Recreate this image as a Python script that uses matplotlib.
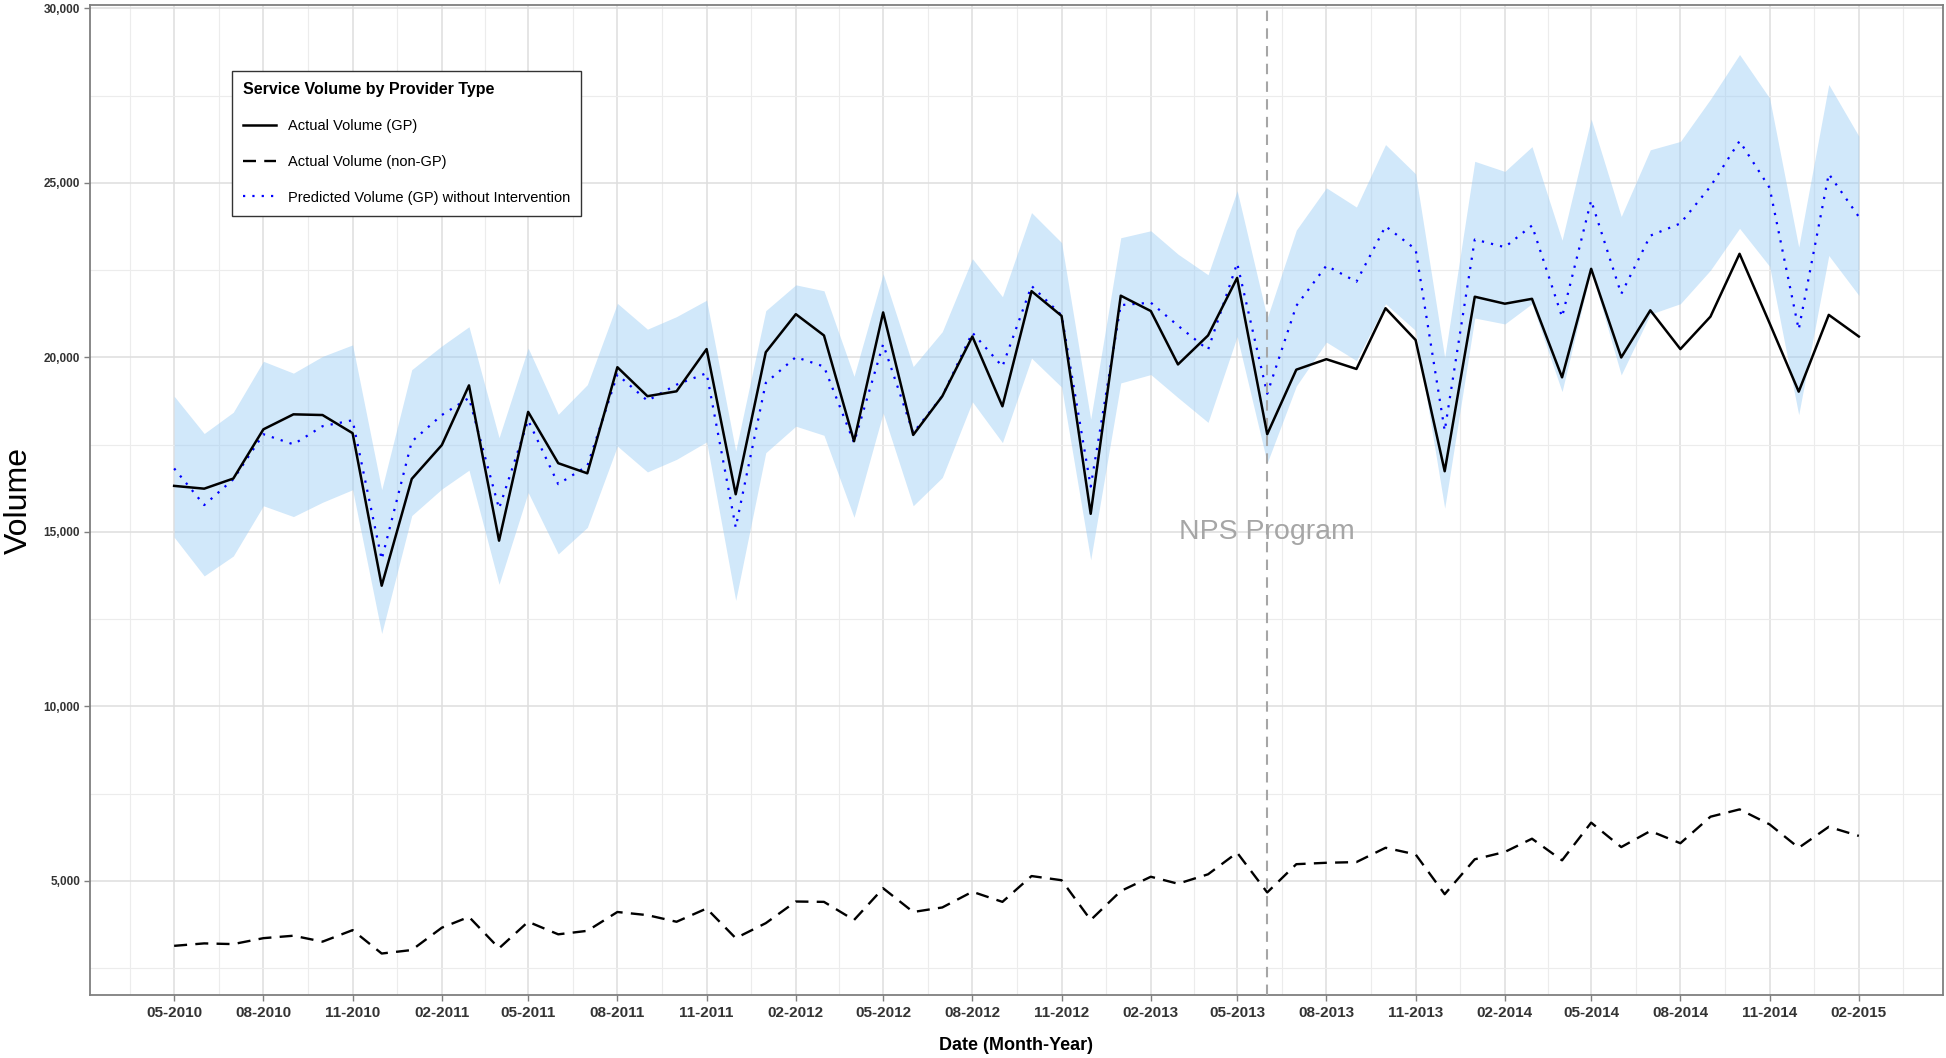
import matplotlib
matplotlib.use("Agg")
import matplotlib.pyplot as plt
import matplotlib.dates as mdates
from matplotlib.ticker import FuncFormatter, MultipleLocator, FixedLocator
import numpy as np
import pandas as pd

plt.rcParams['font.family'] = ['Liberation Sans', 'DejaVu Sans']

# monthly series, 05-2010 .. 02-2015
months = pd.date_range('2010-05-01', periods=58, freq='MS')

gp_actual = [16320, 16240, 16530, 17940, 18370, 18350, 17830, 13460, 16520, 17490,
             19200, 14750, 18440, 16970, 16680, 19720, 18890, 19030, 20240, 16080,
             20150, 21240, 20630, 17600, 21290, 17780, 18890, 20600, 18600, 21900,
             21190, 15520, 21770, 21330, 19800, 20630, 22280, 17800, 19650, 19950,
             19670, 21410, 20500, 16740, 21740, 21540, 21680, 19430, 22540, 20000,
             21350, 20240, 21170, 22970, 20980, 19020, 21220, 20600]

nongp_actual = [3140, 3210, 3190, 3360, 3430, 3260, 3590, 2920, 3020, 3660,
                3970, 3070, 3830, 3470, 3570, 4110, 4020, 3830, 4210, 3360,
                3790, 4410, 4400, 3880, 4790, 4110, 4240, 4690, 4400, 5140,
                5020, 3880, 4710, 5120, 4920, 5190, 5810, 4670, 5480, 5520,
                5540, 5950, 5760, 4620, 5620, 5830, 6210, 5590, 6670, 5970,
                6430, 6080, 6840, 7050, 6620, 5950, 6550, 6290]

gp_predicted = [16820, 15770, 16510, 17800, 17510, 18030, 18200, 14210, 17590, 18350,
                18840, 15670, 18200, 16370, 16890, 19510, 18760, 19220, 19550, 15130,
                19270, 20010, 19740, 17560, 20380, 17840, 18890, 20710, 19740, 22050,
                21210, 16300, 21500, 21570, 20910, 20220, 22700, 18960, 21480, 22630,
                22170, 23760, 23100, 17900, 23380, 23160, 23780, 21160, 24500, 21820,
                23490, 23840, 24900, 26200, 24860, 20800, 25260, 24030]

pred_upper = [18890, 17820, 18430, 19890, 19550, 20030, 20360, 16210, 19650, 20330,
              20880, 17700, 20270, 18370, 19220, 21550, 20810, 21170, 21640, 17320,
              21340, 22080, 21910, 19460, 22400, 19740, 20740, 22830, 21740, 24150,
              23290, 18230, 23430, 23630, 22960, 22370, 24780, 21130, 23650, 24860,
              24310, 26100, 25260, 20000, 25620, 25330, 26040, 23360, 26830, 24040,
              25950, 26190, 27400, 28680, 27430, 23160, 27820, 26340]

pred_lower = [14850, 13740, 14310, 15750, 15440, 15850, 16210, 12090, 15470, 16230,
              16770, 13500, 16130, 14370, 15130, 17460, 16720, 17080, 17580, 13040,
              17270, 18030, 17770, 15420, 18410, 15750, 16560, 18730, 17560, 19980,
              19150, 14200, 19270, 19510, 18850, 18140, 20600, 16980, 19180, 20440,
              19910, 21540, 20770, 15680, 21130, 20960, 21540, 19020, 22500, 19500,
              21240, 21540, 22500, 23700, 22610, 18360, 22920, 21780]

intervention = pd.Timestamp('2013-06-01')

fig = plt.figure(figsize=(19.46, 10.58), dpi=100)
ax = fig.add_axes([0.0462, 0.0595, 0.9523, 0.9358])

ax.fill_between(months, pred_lower, pred_upper, color='#99CCF5', alpha=0.45,
                linewidth=0, zorder=2)
ax.plot(months, gp_actual, color='black', lw=1.8, zorder=4, label='Actual Volume (GP)')
ax.plot(months, nongp_actual, color='black', lw=1.7, linestyle=(0, (5.5, 3.5)),
        zorder=4, label='Actual Volume (non-GP)')
ax.plot(months, gp_predicted, color='blue', lw=1.6, linestyle=(0, (1, 3.2)),
        zorder=3, label='Predicted Volume (GP) without Intervention')

ax.axvline(intervention, color='#A6A6A6', lw=1.5, linestyle=(0, (5, 3.5)), zorder=3)
ax.text(intervention, 15000, 'NPS Program', color='#A6A6A6', fontsize=20.5,
        ha='center', va='center', zorder=5)

# axes limits (ggplot-style 5% expansion)
span = months[-1] - months[0]
ax.set_xlim(months[0] - span * 0.05, months[-1] + span * 0.05)
ax.set_ylim(1730, 30100)

major = pd.date_range('2010-05-01', '2015-02-01', freq='3MS')
major_num = mdates.date2num(major)
mids = (major_num[:-1] + major_num[1:]) / 2
minor_num = np.concatenate([[major_num[0] - (major_num[1] - major_num[0]) / 2], mids,
                            [major_num[-1] + (major_num[-1] - major_num[-2]) / 2]])
ax.xaxis.set_major_locator(FixedLocator(major_num))
ax.xaxis.set_minor_locator(FixedLocator(minor_num))
ax.xaxis.set_major_formatter(mdates.DateFormatter('%m-%Y'))
ax.yaxis.set_major_locator(MultipleLocator(5000))
ax.yaxis.set_minor_locator(MultipleLocator(2500))
ax.yaxis.set_major_formatter(FuncFormatter(lambda v, p: f'{int(v):,}'))

ax.grid(which='major', color='#DEDEDE', lw=1.1, zorder=0)
ax.grid(which='minor', color='#ECECEC', lw=0.8, zorder=0)
ax.set_axisbelow(True)

for s in ax.spines.values():
    s.set_color('#7F7F7F')
    s.set_linewidth(1.3)

ax.tick_params(axis='x', which='major', length=4, width=1, color='#7F7F7F',
               labelsize=11, labelcolor='#333333', pad=4)
ax.tick_params(axis='y', which='major', length=4, width=1, color='#7F7F7F',
               labelsize=8.5, labelcolor='#333333', pad=3)
ax.tick_params(which='minor', length=0)
for lab in ax.get_xticklabels() + ax.get_yticklabels():
    lab.set_fontweight('bold')

ax.set_xlabel('Date (Month-Year)', fontsize=13, fontweight='bold', labelpad=12)
ax.set_ylabel('Volume', fontsize=23, labelpad=7)

leg = ax.legend(loc='upper left', bbox_to_anchor=(0.0766, 0.9333), borderaxespad=0,
                title='Service Volume by Provider Type', fontsize=10.5,
                title_fontproperties={'weight': 'bold', 'size': 11.5},
                alignment='left', fancybox=False, framealpha=1, edgecolor='#333333',
                handlelength=2.3, handletextpad=0.8, labelspacing=1.5, borderpad=0.75)
leg.get_frame().set_linewidth(1.0)

fig.savefig('out.png', dpi=100)
